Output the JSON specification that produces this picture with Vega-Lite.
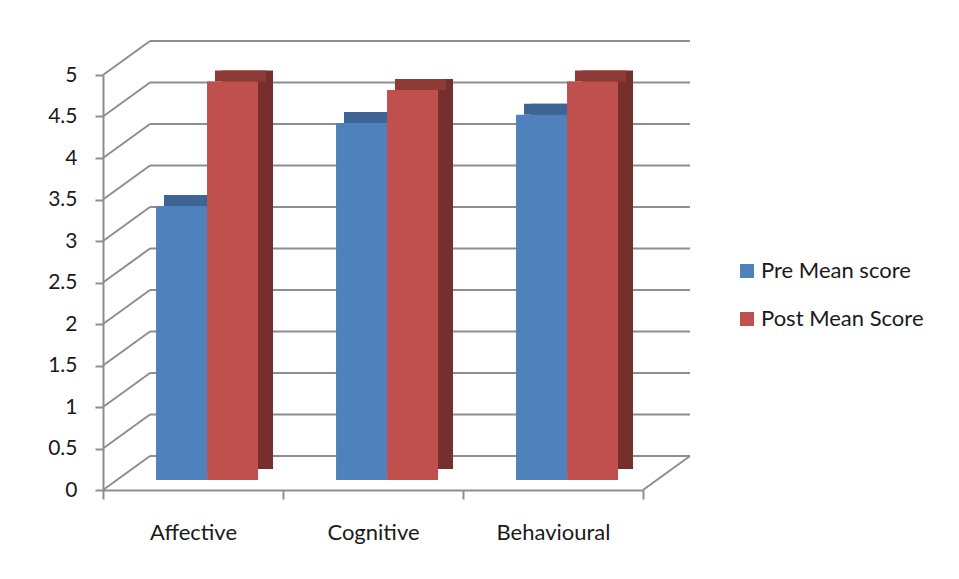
{
  "$schema": "https://vega.github.io/schema/vega-lite/v6.json",
  "width": 540,
  "height": 415,
  "autosize": {"type": "none"},
  "padding": {"left": 103, "top": 75, "right": 316, "bottom": 89},
  "background": "white",
  "config": {
    "view": {"stroke": null},
    "font": "Lato",
    "axis": {"labelFont": "Lato", "labelColor": "#1a1a1a"},
    "legend": {"labelFont": "Lato"}
  },
  "datasets": {
    "scores": [
      {"category": "Affective", "series": "Pre Mean score", "score": 3.3},
      {"category": "Affective", "series": "Post Mean Score", "score": 4.8},
      {"category": "Cognitive", "series": "Pre Mean score", "score": 4.3},
      {"category": "Cognitive", "series": "Post Mean Score", "score": 4.7},
      {"category": "Behavioural", "series": "Pre Mean score", "score": 4.4},
      {"category": "Behavioural", "series": "Post Mean Score", "score": 4.8}
    ],
    "grid": [
      {"v": 0}, {"v": 0.5}, {"v": 1}, {"v": 1.5}, {"v": 2}, {"v": 2.5},
      {"v": 3}, {"v": 3.5}, {"v": 4}, {"v": 4.5}, {"v": 5}
    ]
  },
  "resolve": {"scale": {"xOffset": "independent"}},
  "layer": [
    {
      "data": {"name": "grid"},
      "mark": {"type": "rule", "color": "#8e8e8e", "strokeWidth": 2, "x2Offset": 47, "y2Offset": -34},
      "encoding": {
        "x": {"datum": "Affective", "bandPosition": 0, "type": "nominal", "scale": {"domain": ["Affective", "Cognitive", "Behavioural"], "paddingInner": 0, "paddingOuter": 0}},
        "x2": {"datum": "Affective", "bandPosition": 0},
        "y": {"field": "v", "type": "quantitative", "scale": {"domain": [0, 5], "nice": false, "zero": true}},
        "y2": {"field": "v"}
      }
    },
    {
      "data": {"name": "grid"},
      "mark": {"type": "rule", "color": "#8e8e8e", "strokeWidth": 2, "xOffset": 47, "x2Offset": 47, "yOffset": -34},
      "encoding": {
        "x": {"datum": "Affective", "bandPosition": 0, "type": "nominal"},
        "x2": {"datum": "Behavioural", "bandPosition": 1},
        "y": {"field": "v", "type": "quantitative"}
      }
    },
    {
      "data": {"values": [{"v": 0}]},
      "mark": {"type": "rule", "color": "#8e8e8e", "strokeWidth": 2, "x2Offset": 47, "y2Offset": -34},
      "encoding": {
        "x": {"datum": "Behavioural", "bandPosition": 1, "type": "nominal"},
        "x2": {"datum": "Behavioural", "bandPosition": 1},
        "y": {"field": "v", "type": "quantitative"},
        "y2": {"field": "v"}
      }
    },
    {
      "data": {"name": "scores"},
      "mark": {"type": "bar", "yOffset": -21, "y2Offset": -15},
      "encoding": {
        "x": {"field": "category", "type": "nominal", "sort": ["Affective", "Cognitive", "Behavioural"]},
        "xOffset": {"field": "series", "type": "nominal", "sort": ["Pre Mean score", "Post Mean Score"], "scale": {"paddingInner": 0, "paddingOuter": 0.7647, "align": 0.872}},
        "y": {"field": "score", "type": "quantitative"},
        "color": {"condition": {"test": "datum.series === 'Pre Mean score'", "value": "#3a5f8c"}, "value": "#772f2d"}
      }
    },
    {
      "data": {"name": "scores"},
      "mark": {"type": "bar", "yOffset": -21, "y2Offset": -10},
      "encoding": {
        "x": {"field": "category", "type": "nominal", "sort": ["Affective", "Cognitive", "Behavioural"]},
        "xOffset": {"field": "series", "type": "nominal", "sort": ["Pre Mean score", "Post Mean Score"], "scale": {"paddingInner": 0, "paddingOuter": 0.7647, "align": 0.782}},
        "y": {"field": "score", "type": "quantitative"},
        "y2": {"field": "score"},
        "color": {"condition": {"test": "datum.series === 'Pre Mean score'", "value": "#3c6595"}, "value": "#8e3b38"}
      }
    },
    {
      "data": {"name": "scores"},
      "mark": {"type": "bar", "yOffset": -10, "y2Offset": -10},
      "encoding": {
        "x": {
          "field": "category", "type": "nominal", "sort": ["Affective", "Cognitive", "Behavioural"],
          "axis": {
            "title": null, "labelAngle": 0, "labelFontSize": 22, "labelPadding": 33,
            "labelAlign": "center", "bandPosition": 0.5,
            "domainColor": "#8e8e8e", "domainWidth": 2, "tickColor": "#8e8e8e", "tickWidth": 2,
            "tickSize": 9, "tickBand": "extent", "grid": false
          }
        },
        "xOffset": {"field": "series", "type": "nominal", "sort": ["Pre Mean score", "Post Mean Score"], "scale": {"paddingInner": 0, "paddingOuter": 0.7647, "align": 0.68}},
        "y": {
          "field": "score", "type": "quantitative",
          "axis": {
            "title": null, "values": [0, 0.5, 1, 1.5, 2, 2.5, 3, 3.5, 4, 4.5, 5], "format": "~g",
            "labelFontSize": 21, "labelPadding": 18, "domainColor": "#8e8e8e", "domainWidth": 2,
            "tickColor": "#8e8e8e", "tickWidth": 2, "tickSize": 8, "grid": false
          }
        },
        "color": {
          "field": "series", "type": "nominal",
          "scale": {"domain": ["Pre Mean score", "Post Mean Score"], "range": ["#4f81bd", "#c0504d"]},
          "legend": {
            "title": null, "orient": "none", "legendX": 633, "legendY": 185,
            "symbolType": "square", "symbolSize": 196, "symbolStrokeWidth": 0,
            "labelFontSize": 22, "labelColor": "#1a1a1a", "labelLimit": 400, "rowPadding": 26, "labelOffset": 3
          }
        }
      }
    }
  ]
}
